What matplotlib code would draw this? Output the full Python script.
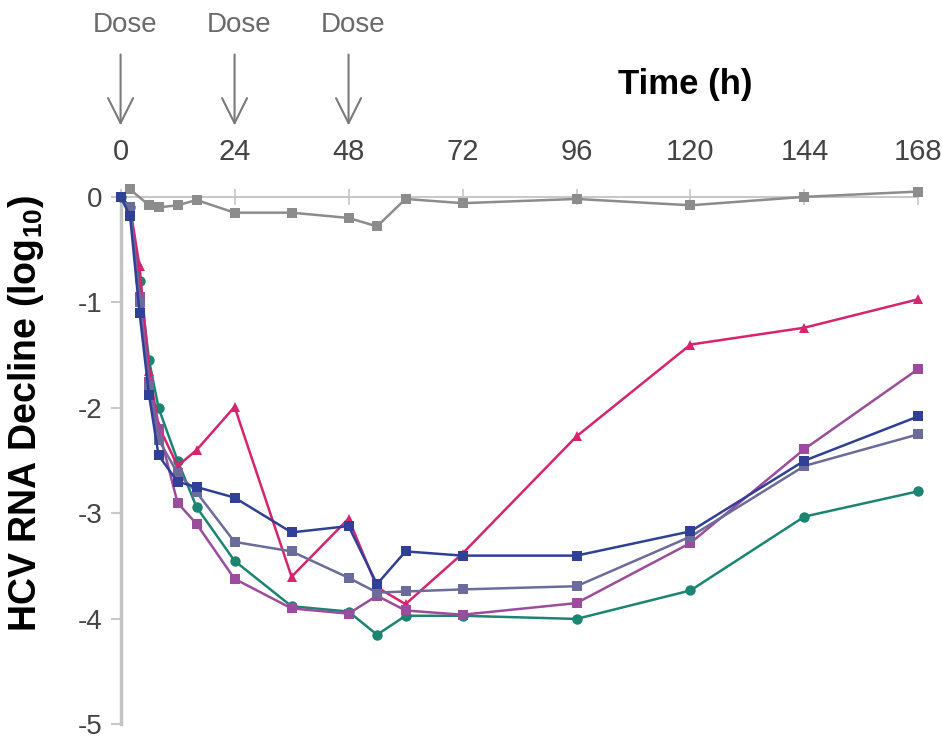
import numpy as np
import matplotlib
matplotlib.use('Agg')
import matplotlib.pyplot as plt

plt.rcParams['font.family'] = ['Liberation Sans', 'DejaVu Sans']

# sampling times (h)
hours_ctrl = [0, 2, 6, 8, 12, 16, 24, 36, 48, 54, 60, 72, 96, 120, 144, 168]
hours = [0, 2, 4, 6, 8, 12, 16, 24, 36, 48, 54, 60, 72, 96, 120, 144, 168]

# log10 decline values
control = [0.0, 0.07, -0.08, -0.1, -0.08, -0.03, -0.15, -0.15, -0.2, -0.28, -0.02, -0.06, -0.02, -0.08, 0.0, 0.05]
teal = [0.0, -0.1, -0.8, -1.55, -2.0, -2.5, -2.94, -3.45, -3.88, -3.93, -4.15, -3.97, -3.97, -4.0, -3.73, -3.03, -2.79]
pink = [0.0, -0.1, -0.66, -1.65, -2.17, -2.55, -2.4, -1.99, -3.6, -3.05, -3.7, -3.86, -3.38, -2.27, -1.4, -1.24, -0.97]
purple = [0.0, -0.1, -0.95, -1.75, -2.2, -2.9, -3.1, -3.62, -3.9, -3.95, -3.78, -3.92, -3.96, -3.85, -3.28, -2.39, -1.63]
slate = [0.0, -0.1, -1.0, -1.8, -2.3, -2.62, -2.8, -3.27, -3.36, -3.61, -3.75, -3.74, -3.72, -3.69, -3.22, -2.55, -2.25]
blue = [0.0, -0.18, -1.1, -1.88, -2.45, -2.7, -2.75, -2.85, -3.18, -3.12, -3.67, -3.36, -3.4, -3.4, -3.17, -2.5, -2.08]

dose_times = [0, 24, 48]
x_ticks = [0, 24, 48, 72, 96, 120, 144, 168]
y_ticks = [0, -1, -2, -3, -4, -5]

fig = plt.figure(figsize=(9.42, 7.4), dpi=100)
ax = fig.add_axes([0.128, 0.021, 0.847, 0.713])

series = [
    (control, hours_ctrl, '#8c8c8c', 's'),
    (teal, hours, '#1b8572', 'o'),
    (pink, hours, '#d8246f', '^'),
    (purple, hours, '#9c4c9c', 's'),
    (slate, hours, '#6b6b9c', 's'),
    (blue, hours, '#2f4096', 's'),
]
for vals, t, col, mk in series:
    ax.plot(t, vals, color=col, lw=1.8, marker=mk, markersize=7.5,
            markeredgewidth=0, clip_on=False, zorder=3)

ax.set_xlim(0, 168)
ax.set_ylim(-5, 0)

# x axis sits on the zero line, labels above
ax.xaxis.tick_top()
ax.spines['top'].set_position(('data', 0))
ax.spines['top'].set_color('#c8c8c8')
ax.spines['top'].set_linewidth(1.5)
ax.spines['top'].set_zorder(1)
ax.spines['bottom'].set_visible(False)
ax.spines['right'].set_visible(False)
ax.spines['left'].set_color('#c4c4c4')
ax.spines['left'].set_linewidth(2.5)

ax.set_xticks(x_ticks)
ax.set_xticklabels([str(v) for v in x_ticks])
ax.tick_params(axis='x', direction='inout', length=12, width=1.2, color='#c8c8c8',
               pad=16, labelsize=21, labelcolor='#444444')
ax.set_yticks(y_ticks)
ax.set_yticklabels([str(v) for v in y_ticks])
ax.tick_params(axis='y', direction='out', length=7, width=1.5, color='#c8c8c8',
               pad=6, labelsize=20, labelcolor='#444444')

ax.set_ylabel('HCV RNA Decline (log$_{\\mathregular{10}}$)', fontsize=27,
              fontweight='bold')
ax.yaxis.set_label_coords(-0.094, 0.59)

ax.text(0.708, 1.212, 'Time (h)', transform=ax.transAxes, fontsize=25,
        fontweight='bold', ha='center', va='center')

for d in dose_times:
    ax.annotate('', xy=(d, 1.13), xycoords=('data', 'axes fraction'),
                xytext=(d, 1.275), textcoords=('data', 'axes fraction'),
                arrowprops=dict(arrowstyle='->,head_length=0.9,head_width=0.45',
                                color='#7a7a7a', lw=1.5, mutation_scale=20))
    ax.text(d + 1, 1.325, 'Dose', transform=ax.get_xaxis_transform(),
            fontsize=20, color='#6a6a6a', ha='center', va='center')

fig.savefig('out.png', dpi=100)
